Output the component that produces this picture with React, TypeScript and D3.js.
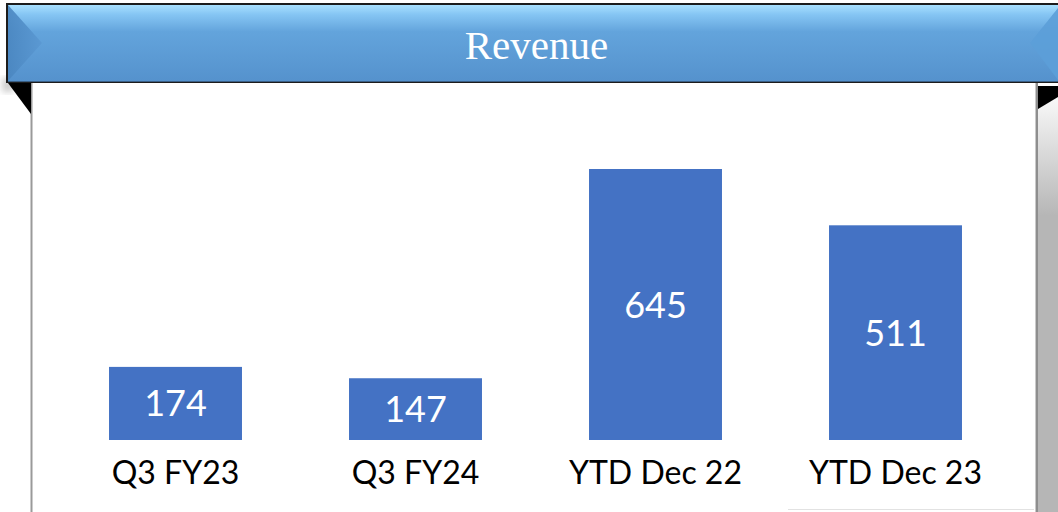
import React from "react";
import * as d3 from "d3";

const categories = ["Q3 FY23", "Q3 FY24", "YTD Dec 22", "YTD Dec 23"];
const revenue = [174, 147, 645, 511];
const title = "Revenue";

export default function App() {
  const W = 1058;
  const H = 512;
  const x = d3
    .scaleBand<string>()
    .domain(categories)
    .range([55.5, 1015.5])
    .paddingInner(0.446)
    .paddingOuter(0.223);
  const y = d3.scaleLinear().domain([0, 645]).range([440, 169]);

  return (
    <svg
      width={W}
      height={H}
      style={{ position: "absolute", left: 0, top: 0 }}
      xmlns="http://www.w3.org/2000/svg"
    >
      <defs>
        <linearGradient id="banner" x1="0" y1="0" x2="0" y2="1">
          <stop offset="0%" stopColor="#a8e0ff" />
          <stop offset="12%" stopColor="#86c6f4" />
          <stop offset="35%" stopColor="#63a4dc" />
          <stop offset="100%" stopColor="#5592cd" />
        </linearGradient>
        <linearGradient id="leftFacet" x1="0" y1="0" x2="1" y2="0">
          <stop offset="0%" stopColor="#4a86c0" />
          <stop offset="100%" stopColor="#5a98d2" />
        </linearGradient>
        <linearGradient id="rightStrip" x1="0" y1="0" x2="0" y2="1">
          <stop offset="0%" stopColor="#ffffff" />
          <stop offset="100%" stopColor="#b6b6b6" />
        </linearGradient>
        <filter id="blur" x="-20%" y="-20%" width="140%" height="140%">
          <feGaussianBlur stdDeviation="3" />
        </filter>
      </defs>
      <rect x={0} y={0} width={W} height={H} fill="#ffffff" />

      {/* right strip behind panel */}
      <rect x={1038} y={86} width={20} height={130} fill="url(#rightStrip)" />
      <rect x={1038} y={216} width={20} height={296} fill="#b6b6b6" />
      <polygon points="1038,86 1058,86 1058,97 1038,109" fill="#000" />

      {/* soft shadow left of banner */}
      <rect x={2} y={78} width={12} height={14} fill="#cfcfcf" filter="url(#blur)" />

      {/* panel */}
      <rect x={32} y={83} width={1004} height={429} fill="#ffffff" />
      <line x1={31.5} y1={83} x2={31.5} y2={512} stroke="#9a9a9a" strokeWidth={2} />
      <line x1={1037} y1={83} x2={1037} y2={512} stroke="#8e8e8e" strokeWidth={2} />
      <line x1={1035.5} y1={83} x2={1035.5} y2={512} stroke="#c9c9c9" strokeWidth={1} />
      <line x1={788} y1={509.5} x2={1034} y2={509.5} stroke="#e2e2e2" strokeWidth={1} />

      {/* left fold triangle */}
      <polygon points="8,83 31,83 31,114" fill="#000" />

      {/* banner */}
      <rect x={6} y={3} width={1060} height={80} fill="#1c1c1c" />
      <rect x={8} y={5} width={1060} height={76} fill="url(#banner)" />
      <polygon points="8,5 42,43 8,81" fill="url(#leftFacet)" opacity={0.9} />
      <polygon points="1058,8 1030,43 1058,80" fill="#5c9ed8" opacity={0.9} />
      <line x1={8} y1={81.5} x2={1058} y2={81.5} stroke="#3a5f85" strokeWidth={1} />
      <text
        x={536.5}
        y={59}
        textAnchor="middle"
        fill="#ffffff"
        fontFamily="'Liberation Serif', 'DejaVu Serif', serif"
        fontSize={41}
      >
        {title}
      </text>

      {/* bars */}
      {categories.map((c, i) => {
        const bx = x(c)!;
        const bw = x.bandwidth();
        const top = y(revenue[i]);
        const bottom = y(0);
        const mid = (top + bottom) / 2;
        return (
          <g key={c}>
            <rect x={bx} y={top} width={bw} height={bottom - top} fill="#4472c4" />
            <text
              x={bx + bw / 2}
              y={mid + 13}
              textAnchor="middle"
              fill="#ffffff"
              fontFamily="Lato, 'Open Sans', sans-serif"
              fontSize={36}
            >
              {revenue[i]}
            </text>
            <text
              x={bx + bw / 2}
              y={484}
              textAnchor="middle"
              fill="#000000"
              fontFamily="Lato, 'Open Sans', sans-serif"
              fontSize={32}
            >
              {c}
            </text>
          </g>
        );
      })}
    </svg>
  );
}
